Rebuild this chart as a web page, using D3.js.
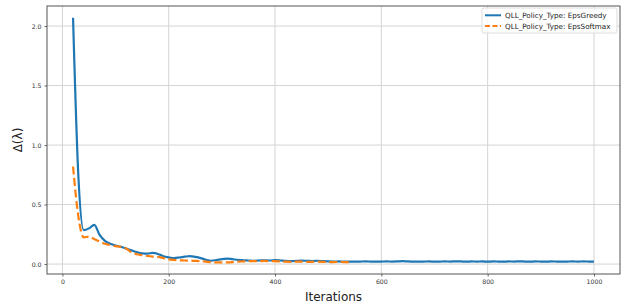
<!DOCTYPE html>
<html lang="en">
  <head>
    <meta charset="UTF-8" />
    <script src="https://cdnjs.cloudflare.com/ajax/libs/d3/7.8.5/d3.min.js"></script>
    <style>
      body { margin: 0; background: #fff; }
      text { font-family: "DejaVu Sans", sans-serif; fill: #222; }
      .tick text { font-size: 6.2px; fill: #333; }
      .grid line { stroke: #d4d4d4; stroke-width: 1; }
    </style>
  </head>
  <body>
    <script>
      // iterations for each series
      const greedyIters = [
        20, 30, 40, 50, 60, 70, 80, 90, 100, 110, 120, 130, 140, 150, 160, 170, 180, 190, 200,
        210, 220, 230, 240, 250, 260, 270, 280, 290, 300, 310, 320, 330, 340, 350, 360, 370, 380,
        390, 400, 410, 420, 430, 440, 450, 460, 470, 480, 490, 500, 510, 520, 530, 540, 550, 560,
        570, 580, 590, 600, 610, 620, 630, 640, 650, 660, 670, 680, 690, 700, 710, 720, 730, 740,
        750, 760, 770, 780, 790, 800, 810, 820, 830, 840, 850, 860, 870, 880, 890, 900, 910, 920,
        930, 940, 950, 960, 970, 980, 990, 1000
      ];
      const greedyValues = [
        2.07, 0.74, 0.285, 0.3, 0.33, 0.245, 0.195, 0.17, 0.155, 0.145, 0.13, 0.115, 0.1, 0.09,
        0.088, 0.094, 0.085, 0.066, 0.056, 0.05, 0.055, 0.062, 0.067, 0.06, 0.05, 0.036, 0.028,
        0.034, 0.042, 0.046, 0.041, 0.035, 0.032, 0.03, 0.028, 0.03, 0.032, 0.03, 0.033, 0.03,
        0.026, 0.024, 0.027, 0.029, 0.027, 0.025, 0.028, 0.024, 0.022, 0.021, 0.022, 0.02, 0.021,
        0.02, 0.021, 0.022, 0.021, 0.02, 0.021, 0.022, 0.021, 0.022, 0.024, 0.022, 0.021, 0.02,
        0.021, 0.022, 0.02, 0.021, 0.022, 0.021, 0.023, 0.022, 0.02, 0.022, 0.021, 0.022, 0.02,
        0.022, 0.021, 0.02, 0.022, 0.021, 0.023, 0.021, 0.02, 0.022, 0.021, 0.02, 0.022, 0.021,
        0.02, 0.021, 0.022, 0.021, 0.022, 0.021, 0.02
      ];
      const softmaxIters = [
        20, 30, 40, 50, 60, 70, 80, 90, 100, 110, 120, 130, 140, 150, 160, 170, 180, 190, 200,
        210, 220, 230, 240, 250, 260, 270, 280, 290, 300, 310, 320, 330, 340, 350, 360, 370, 380,
        390, 400, 410, 420, 430, 440, 450, 460, 470, 480, 490, 500, 510, 520, 530, 540
      ];
      const softmaxValues = [
        0.82, 0.4, 0.225, 0.23, 0.21, 0.19, 0.17, 0.16, 0.15, 0.145, 0.13, 0.098, 0.082, 0.075,
        0.068, 0.063, 0.06, 0.05, 0.04, 0.035, 0.032, 0.03, 0.028, 0.027, 0.024, 0.02, 0.016,
        0.014, 0.014, 0.015, 0.017, 0.02, 0.022, 0.024, 0.025, 0.024, 0.026, 0.025, 0.025, 0.022,
        0.02, 0.019, 0.021, 0.02, 0.018, 0.019, 0.02, 0.018, 0.017, 0.017, 0.018, 0.017, 0.017
      ];
      const xTicks = [0, 200, 400, 600, 800, 1000];
      const yTicks = [0.0, 0.5, 1.0, 1.5, 2.0];
      const seriesNames = ["QLL_Policy_Type: EpsGreedy", "QLL_Policy_Type: EpsSoftmax"];

      const width = 627, height = 307;
      const margin = { left: 47, right: 7, top: 6, bottom: 33 };

      const svg = d3.select("body").append("svg")
        .attr("width", width).attr("height", height);

      const x = d3.scaleLinear().domain([-29, 1049]).range([margin.left, width - margin.right]);
      const y = d3.scaleLinear().domain([-0.0835, 2.1685]).range([height - margin.bottom, margin.top]);

      // grid
      svg.append("g").attr("class", "grid")
        .selectAll("line").data(xTicks).enter().append("line")
        .attr("x1", d => x(d)).attr("x2", d => x(d))
        .attr("y1", margin.top).attr("y2", height - margin.bottom);
      svg.append("g").attr("class", "grid")
        .selectAll("line").data(yTicks).enter().append("line")
        .attr("y1", d => y(d)).attr("y2", d => y(d))
        .attr("x1", margin.left).attr("x2", width - margin.right);

      const line = d3.line().curve(d3.curveMonotoneX);

      svg.append("path")
        .attr("d", line(greedyIters.map((d, i) => [x(d), y(greedyValues[i])])))
        .attr("fill", "none").attr("stroke", "#1f77b4").attr("stroke-width", 2.2);

      svg.append("path")
        .attr("d", line(softmaxIters.map((d, i) => [x(d), y(softmaxValues[i])])))
        .attr("fill", "none").attr("stroke", "#ff7f0e").attr("stroke-width", 2.2)
        .attr("stroke-dasharray", "8,3.5");

      // axes
      const xAxis = svg.append("g")
        .attr("transform", `translate(0,${height - margin.bottom})`)
        .call(d3.axisBottom(x).tickValues(xTicks).tickSize(2.5).tickPadding(3).tickFormat(d3.format("d")));
      const yAxis = svg.append("g")
        .attr("transform", `translate(${margin.left},0)`)
        .call(d3.axisLeft(y).tickValues(yTicks).tickSize(2.5).tickPadding(3).tickFormat(d3.format(".1f")));
      [xAxis, yAxis].forEach(a => {
        a.select(".domain").remove();
        a.selectAll(".tick line").attr("stroke", "#666");
      });

      // frame
      svg.append("rect")
        .attr("x", margin.left).attr("y", margin.top)
        .attr("width", width - margin.left - margin.right)
        .attr("height", height - margin.top - margin.bottom)
        .attr("fill", "none").attr("stroke", "#555").attr("stroke-width", 1);

      svg.append("text")
        .attr("x", (margin.left + width - margin.right) / 2).attr("y", 301)
        .attr("text-anchor", "middle").style("font-size", "12px")
        .text("Iterations");

      svg.append("text")
        .attr("transform", `translate(22,${(margin.top + height - margin.bottom) / 2}) rotate(-90)`)
        .attr("text-anchor", "middle").style("font-size", "12px")
        .text("Δ(λ)");

      // legend
      const legend = svg.append("g").attr("transform", "translate(482,8)");
      legend.append("rect")
        .attr("width", 135).attr("height", 25).attr("rx", 2)
        .attr("fill", "#fff").attr("fill-opacity", 0.8)
        .attr("stroke", "#ddd").attr("stroke-width", 1);
      const styles = [
        { color: "#1f77b4", dash: null },
        { color: "#ff7f0e", dash: "5,2.5" }
      ];
      seriesNames.forEach((name, i) => {
        const yy = 7.3 + i * 10.7;
        legend.append("line")
          .attr("x1", 3).attr("x2", 19).attr("y1", yy).attr("y2", yy)
          .attr("stroke", styles[i].color).attr("stroke-width", 2)
          .attr("stroke-dasharray", styles[i].dash);
        legend.append("text")
          .attr("x", 23).attr("y", yy).attr("dy", "0.35em")
          .style("font-size", "7.2px")
          .text(name);
      });
    </script>
  </body>
</html>
